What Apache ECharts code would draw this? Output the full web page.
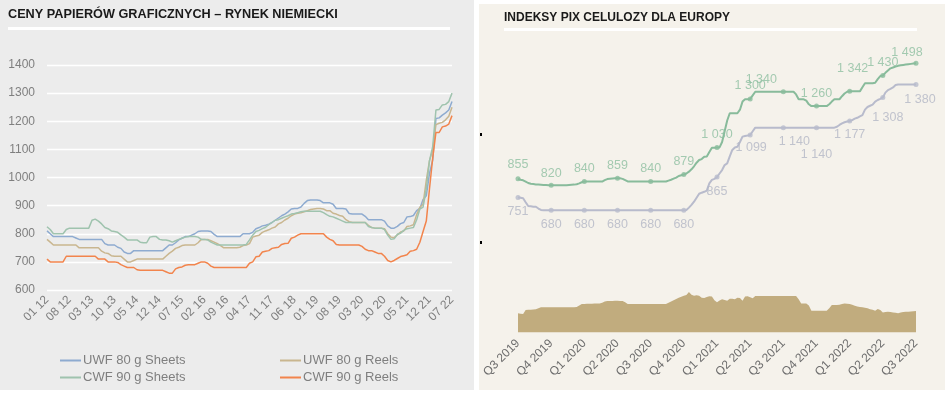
<!DOCTYPE html>
<html><head><meta charset="utf-8">
<script src="https://cdn.jsdelivr.net/npm/echarts@6/dist/echarts.min.js"></script>
<style>html,body{margin:0;padding:0;background:#fff}#c{width:951px;height:394px}</style>
</head><body><div id="c"></div>
<script>
// ---------- LEFT PANEL DATA (monthly, 01 2012 .. 07 2022) ----------
const uwfSheets = [
810,800,790,790,790,790,790,790,790,785,
780,780,780,780,780,780,780,780,765,760,
760,760,752,748,735,730,730,740,740,740,
740,740,740,740,740,740,740,750,760,760,
768,778,784,790,790,795,800,808,810,810,
810,808,798,790,790,790,790,790,790,790,
790,800,800,800,805,818,822,828,830,834,
840,848,856,864,870,878,888,890,890,895,
908,918,920,920,920,918,910,910,910,905,
890,890,890,888,872,870,870,870,870,862,
850,850,850,850,850,845,828,820,820,826,
836,840,860,861,865,882,890,922,935,1015,
1062,1210,1212,1222,1230,1240,1270];
const cwfSheets = [
825,815,800,800,800,800,815,820,820,820,
820,820,820,820,848,852,845,835,822,818,
810,808,805,796,788,778,778,778,778,770,
768,768,788,790,790,780,778,778,775,770,
775,780,784,788,790,790,790,788,780,780,
778,770,765,760,760,760,760,760,760,760,
760,760,762,778,795,808,812,818,823,832,
840,848,850,855,860,864,870,872,875,878,
880,880,880,880,880,880,875,868,862,860,
855,850,845,840,840,840,840,840,840,840,
826,822,820,820,820,815,795,780,782,798,
802,812,818,820,822,850,888,895,960,1060,
1110,1240,1242,1258,1260,1270,1300];
const uwfReels = [
780,770,760,760,760,760,760,760,760,760,
750,750,750,750,750,750,750,738,732,730,
722,720,720,720,710,700,700,705,710,710,
710,710,710,710,710,710,710,720,730,738,
748,752,758,760,760,760,760,768,780,780,
780,775,770,765,758,750,750,750,750,750,
752,758,760,765,788,792,795,805,810,814,
820,824,835,840,849,855,864,870,873,875,
878,882,886,888,890,890,888,882,882,873,
870,865,862,850,843,840,840,840,840,840,
830,822,820,820,820,818,800,788,786,796,
806,810,826,828,832,868,894,905,990,1060,
1098,1188,1193,1196,1205,1218,1250];
const cwfReels = [
710,700,700,700,700,700,720,720,720,720,
720,720,720,720,720,720,710,710,710,700,
700,700,698,690,685,680,680,680,672,670,
670,670,670,670,670,670,670,665,660,660,
675,680,682,688,690,690,690,695,700,700,
695,685,680,680,680,680,680,680,680,680,
680,680,680,695,700,718,720,735,738,740,
748,750,752,762,765,766,784,788,795,800,
800,800,800,800,800,800,800,788,780,775,
762,760,760,760,760,760,760,760,755,745,
740,740,735,730,730,720,705,700,705,712,
719,722,725,738,740,745,770,808,845,960,
1070,1160,1160,1180,1183,1190,1220];
const leftNames = ['UWF 80 g Sheets','UWF 80 g Reels','CWF 90 g Sheets','CWF 90 g Reels'];
const months = [];
for (let i = 0; i < uwfSheets.length; i++) {
  const yy = 12 + Math.floor(i / 12), mm = (i % 12) + 1;
  months.push(String(mm).padStart(2, '0') + ' ' + yy);
}

// ---------- RIGHT PANEL DATA (weekly, Q3 2019 .. Q3 2022) ----------
const quarters = ['Q3 2019','Q4 2019','Q1 2020','Q2 2020','Q3 2020','Q4 2020','Q1 2021','Q2 2021','Q3 2021','Q4 2021','Q1 2022','Q2 2022','Q3 2022'];
const nbskQ = [855,820,840,859,840,879,1030,1300,1340,1260,1342,1430,1498];
const bhkpQ = [751,680,680,680,680,680,865,1099,1140,1140,1177,1308,1380];
const nbskW = [
855,850,847,840,832,828,826,824,823,822,821,821,820,
820,820,820,820,820,820,820,821,822,823,825,830,836,
840,840,840,840,840,840,840,840,848,854,856,857,858,
859,858,855,848,841,840,840,840,840,840,840,840,840,
840,840,840,840,840,840,840,845,850,856,862,871,875,
879,885,895,908,925,945,960,965,978,980,1005,1028,1028,
1030,1030,1060,1120,1180,1220,1220,1220,1220,1240,1285,1298,1298,
1300,1320,1340,1340,1340,1340,1340,1340,1340,1340,1340,1340,1340,
1340,1340,1340,1340,1340,1325,1298,1298,1298,1290,1270,1260,1260,
1260,1260,1260,1260,1260,1270,1285,1298,1298,1298,1315,1330,1340,
1342,1342,1342,1342,1342,1365,1387,1387,1387,1387,1390,1410,1427,
1430,1445,1458,1470,1475,1480,1484,1487,1489,1491,1493,1495,1497,
1498];
const bhkpW = [
751,750,747,725,704,702,700,700,690,682,680,680,680,
680,680,680,680,680,680,680,680,680,680,680,680,680,
680,680,680,680,680,680,680,680,680,680,680,680,680,
680,680,680,680,680,680,680,680,680,680,680,680,680,
680,680,680,680,680,680,680,680,680,680,680,680,680,
680,682,695,710,728,750,772,778,783,790,830,849,855,
865,885,904,932,941,980,1016,1030,1034,1060,1090,1094,1096,
1099,1120,1140,1140,1140,1140,1140,1140,1140,1140,1140,1140,1140,
1140,1140,1140,1140,1140,1140,1140,1140,1140,1140,1140,1140,1140,
1140,1140,1140,1140,1140,1140,1140,1140,1145,1155,1164,1170,1174,
1177,1182,1190,1195,1203,1210,1240,1255,1262,1268,1285,1294,1300,
1308,1335,1349,1356,1364,1377,1380,1380,1380,1380,1380,1380,1380,
1380];
const spreadW = [
107,105,103,125,126,127,128,129,135,140,140,140,140,
140,140,140,140,140,140,140,140,140,140,142,150,159,
159,160,160,160,161,161,162,165,172,175,176,176,177,
177,176,175,168,159,159,159,159,159,159,159,159,159,
159,159,159,159,159,159,159,165,172,180,186,193,199,
204,209,225,210,204,208,205,194,192,197,202,200,180,
168,178,185,181,177,188,188,185,193,192,177,200,202,
196,190,203,203,203,203,203,203,203,203,203,203,203,
203,203,203,203,203,203,185,162,162,162,150,121,121,
121,121,121,121,121,135,153,153,153,155,158,162,160,
159,155,149,145,142,140,138,135,130,126,121,131,125,
112,114,116,114,112,110,107,112,114,115,116,117,118,
120];
const weeks = [];
quarters.forEach((q, i) => {
  const n = i === quarters.length - 1 ? 1 : 13;
  for (let k = 0; k < n; k++) weeks.push(q + '|' + k);
});

// ---------- STYLE CONFIG ----------
const leftColors = ['#8eabd0', '#c9b68f', '#9fc3ae', '#f2844c'];
const nbskColor = '#88bb9b', bhkpColor = '#b8bbcc', spreadColor = '#c1ac7e';
const nbskOff = [[0,-14],[0,-12],[0,-13],[0,-13],[0,-13],[0,-13],[0,-13],[0,-13],[-22,-12],[0,-13],[3,-23],[0,-13],[-9,-11]];
const bhkpOff = [[0,14],[0,14],[0,14],[0,14],[0,14],[0,14],[0,14],[1,13],[11,14],[0,27],[0,14],[5,20],[4,15]];
const FONT = 'Liberation Sans, Arial, sans-serif';
const fmt = v => String(v).replace(/\B(?=(\d{3})+(?!\d))/g, ' ');

const chart = echarts.init(document.getElementById('c'), null, {renderer: 'canvas'});
const leftSeries = [uwfSheets, uwfReels, cwfSheets, cwfReels].map((d, i) => ({
  name: leftNames[i], type: 'line', xAxisIndex: 0, yAxisIndex: 0, data: d,
  symbol: 'none', color: leftColors[i], lineStyle: {width: 1.5, color: leftColors[i]},
  z: i === 3 ? 4 : 3, animation: false
}));

chart.setOption({
  animation: false,
  backgroundColor: '#ffffff',
  textStyle: {fontFamily: FONT},
  graphic: [
    {type: 'rect', z: -10, silent: true, shape: {x: 0, y: 0, width: 474, height: 390}, style: {fill: '#ececec'}},
    {type: 'rect', z: -10, silent: true, shape: {x: 479, y: 4, width: 466, height: 386}, style: {fill: '#f5f2eb'}},
    {type: 'rect', z: 1, silent: true, shape: {x: 8, y: 27, width: 442, height: 3}, style: {fill: '#ffffff'}},
    {type: 'rect', z: 1, silent: true, shape: {x: 504, y: 28, width: 413, height: 3}, style: {fill: '#ffffff'}},
    {type: 'rect', z: 1, silent: true, shape: {x: 480, y: 133, width: 2, height: 3}, style: {fill: '#000'}},
    {type: 'rect', z: 1, silent: true, shape: {x: 480, y: 241, width: 2, height: 3}, style: {fill: '#000'}}
  ],
  title: [
    {text: 'CENY PAPIERÓW GRAFICZNYCH – RYNEK NIEMIECKI', left: 8, top: 8, padding: 0,
     textStyle: {fontSize: 12.7, fontWeight: 'bold', color: '#1a1a1a', fontFamily: FONT}},
    {text: 'INDEKSY PIX CELULOZY DLA EUROPY', left: 504, top: 12, padding: 0,
     textStyle: {fontSize: 12, fontWeight: 'bold', color: '#1a1a1a', fontFamily: FONT}}
  ],
  legend: [
    {data: [leftNames[0], leftNames[2]], orient: 'vertical', left: 60, top: 354, itemGap: 4, padding: 0,
     icon: 'rect', itemWidth: 21, itemHeight: 2, textStyle: {fontSize: 13, color: '#7f7f7f', fontFamily: FONT, padding: [0,0,0,-3]}},
    {data: [leftNames[1], leftNames[3]], orient: 'vertical', left: 280, top: 354, itemGap: 4, padding: 0,
     icon: 'rect', itemWidth: 21, itemHeight: 2, textStyle: {fontSize: 13, color: '#7f7f7f', fontFamily: FONT, padding: [0,0,0,-3]}}
  ],
  grid: [
    {left: 47, right: 499, top: 65, bottom: 104, containLabel: false},
    {left: 518, right: 35, top: 45, bottom: 61.5, containLabel: false}
  ],
  xAxis: [
    {type: 'category', gridIndex: 0, data: months, boundaryGap: false,
     axisLine: {show: false}, axisTick: {show: false},
     axisLabel: {interval: 6, rotate: 45, margin: 8, fontSize: 12, color: '#7f7f7f', fontFamily: FONT}},
    {type: 'category', gridIndex: 1, data: weeks, boundaryGap: false,
     axisLine: {show: false}, axisTick: {show: false},
     axisLabel: {interval: 12, rotate: 45, margin: 9, fontSize: 12, color: '#6e6e6e', fontFamily: FONT,
                 formatter: v => v.split('|')[0]}}
  ],
  yAxis: [
    {type: 'value', gridIndex: 0, min: 600, max: 1400, interval: 100,
     axisLine: {show: false}, axisTick: {show: false},
     axisLabel: {margin: 12, fontSize: 12, color: '#7f7f7f', fontFamily: FONT, formatter: v => String(v)},
     splitLine: {lineStyle: {color: '#ffffff', width: 1.3}}},
    {type: 'value', gridIndex: 1, min: 0, max: 1600, show: false, splitLine: {show: false}}
  ],
  series: leftSeries.concat([
    {name: 'spread', type: 'line', xAxisIndex: 1, yAxisIndex: 1, data: spreadW, symbol: 'none',
     lineStyle: {width: 0}, areaStyle: {color: spreadColor, opacity: 1}, color: spreadColor, z: 1},
    {name: 'NBSK', type: 'line', xAxisIndex: 1, yAxisIndex: 1, data: nbskW, symbol: 'none',
     lineStyle: {width: 2, color: nbskColor}, color: nbskColor, z: 3},
    {name: 'BHKP', type: 'line', xAxisIndex: 1, yAxisIndex: 1, data: bhkpW, symbol: 'none',
     lineStyle: {width: 2, color: bhkpColor}, color: bhkpColor, z: 3},
    {name: 'NBSK pts', type: 'scatter', xAxisIndex: 1, yAxisIndex: 1, symbolSize: 5, z: 5,
     itemStyle: {color: nbskColor},
     label: {show: true, position: 'inside', fontSize: 12.5, color: '#8fbfa1', fontFamily: FONT,
             formatter: p => fmt(p.value[1])},
     data: quarters.map((q, i) => ({value: [i * 13, nbskQ[i]], label: {offset: nbskOff[i]}}))},
    {name: 'BHKP pts', type: 'scatter', xAxisIndex: 1, yAxisIndex: 1, symbolSize: 5, z: 5,
     itemStyle: {color: bhkpColor},
     label: {show: true, position: 'inside', fontSize: 12.5, color: '#b3b6c6', fontFamily: FONT,
             formatter: p => fmt(p.value[1])},
     data: quarters.map((q, i) => ({value: [i * 13, bhkpQ[i]], label: {offset: bhkpOff[i]}}))}
  ])
});
</script></body></html>
